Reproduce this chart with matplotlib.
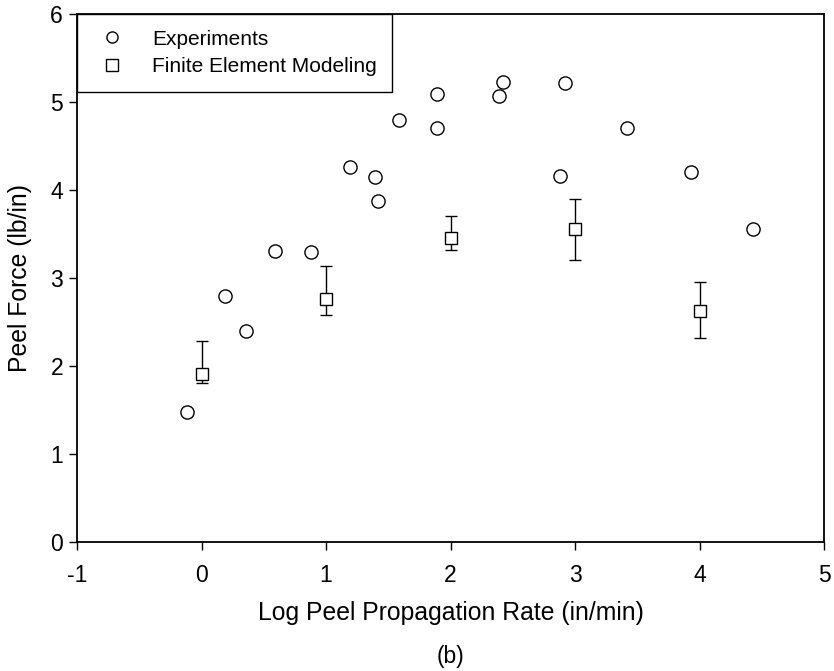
import matplotlib

matplotlib.use("Agg")
import matplotlib.pyplot as plt

plt.rcParams["font.family"] = ["Liberation Sans", "DejaVu Sans"]
plt.rcParams["axes.unicode_minus"] = False

# Experimental peel force vs log peel propagation rate
exp_x = [-0.12, 0.19, 0.36, 0.59, 0.88, 1.19, 1.39, 1.42, 1.59, 1.89, 1.89,
         2.39, 2.42, 2.88, 2.92, 3.42, 3.93, 4.43]
exp_y = [1.48, 2.80, 2.40, 3.31, 3.29, 4.26, 4.15, 3.88, 4.79, 4.70, 5.09,
         5.07, 5.23, 4.16, 5.22, 4.71, 4.21, 3.56]

# Finite element results with error range
fem_x = [0, 1, 2, 3, 4]
fem_y = [1.91, 2.76, 3.46, 3.56, 2.62]
fem_hi = [2.28, 3.14, 3.71, 3.90, 2.96]
fem_lo = [1.81, 2.58, 3.32, 3.21, 2.32]

fem_err = [[y - lo for y, lo in zip(fem_y, fem_lo)],
           [hi - y for y, hi in zip(fem_y, fem_hi)]]

fig = plt.figure(figsize=(8.34, 6.71), dpi=100)
ax = fig.add_axes([77 / 834, 129 / 671, 747 / 834, 528 / 671])

ax.plot(exp_x, exp_y, linestyle="none", marker="o", markersize=9.5,
        markerfacecolor="white", markeredgecolor="black", markeredgewidth=1.0,
        label="Experiments", zorder=3)
ax.errorbar(fem_x, fem_y, yerr=fem_err, fmt="none",
            ecolor="black", elinewidth=1.0, capsize=4, capthick=1.0, zorder=2)
ax.plot(fem_x, fem_y, linestyle="none", marker="s", markersize=8.5,
        markerfacecolor="white", markeredgecolor="black", markeredgewidth=1.0,
        label="Finite Element Modeling", zorder=3)

ax.set_xlim(-1, 5)
ax.set_ylim(0, 6)
ax.set_xticks(range(-1, 6))
ax.set_yticks(range(0, 7))
ax.tick_params(axis="both", direction="out", length=6, width=1.0,
               labelsize=16.5, colors="black")
ax.tick_params(axis="x", pad=10)
ax.tick_params(axis="y", pad=4)
for side in ax.spines.values():
    side.set_linewidth(1.3)

ax.set_xlabel("Log Peel Propagation Rate (in/min)", fontsize=17.8, labelpad=10)
ax.set_ylabel("Peel Force (lb/in)", fontsize=17.8, labelpad=13)

leg = ax.legend(loc="upper left", bbox_to_anchor=(0, 1), borderaxespad=0,
                fontsize=15, frameon=True, fancybox=False, framealpha=1,
                edgecolor="black", borderpad=0.75, handlelength=1.9,
                handletextpad=0.95, labelspacing=0.4)
leg.get_frame().set_linewidth(1.0)
for h in leg.legend_handles:
    h.set_markersize(8)

fig.text(450 / 834, 1 - 657 / 671, "(b)", fontsize=16.5, ha="center", va="center")

fig.savefig("out.png", dpi=100, facecolor="white")
